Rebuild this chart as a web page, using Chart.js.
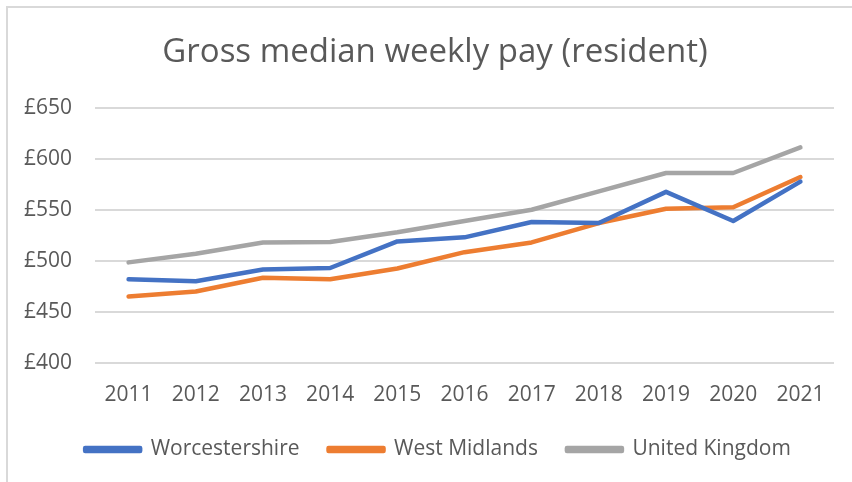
<!DOCTYPE html>
<html>
<head>
<meta charset="utf-8">
<script src="https://cdn.jsdelivr.net/npm/chart.js@4"></script>
<style>
  body { margin: 0; background: #fff; overflow: hidden; }
  #wrap { position: relative; width: 852px; height: 482px; overflow: hidden; }
</style>
</head>
<body>
<div id="wrap"><canvas id="chart" width="852" height="482"></canvas></div>
<script>
const jahre = ['2011', '2012', '2013', '2014', '2015', '2016', '2017', '2018', '2019', '2020', '2021'];
const worcestershire = [482, 480, 491.5, 493, 519, 523, 538, 537, 567.5, 539, 577.5];
const westMidlands = [465, 470, 483.5, 482, 492.5, 508.5, 518, 537, 551, 552.5, 582];
const unitedKingdom = [498.5, 507, 518, 518.5, 528, 539, 550, 568, 586, 586, 611];
const yMin = 400, yMax = 650, yStep = 50;

const schrift = "'Open Sans', 'DejaVu Sans', sans-serif";
const textFarbe = '#595959';

// Rahmen wie im Original (nur oben und links sichtbar)
const rahmen = {
  id: 'rahmen',
  beforeDraw(chart) {
    const c = chart.ctx;
    c.save();
    c.fillStyle = '#fff';
    c.fillRect(0, 0, chart.width, chart.height);
    c.strokeStyle = '#d9d9d9';
    c.lineWidth = 2;
    c.strokeRect(7, 7, 900, 520);
    c.restore();
  }
};

// Titel und Legende wie im Original etwas nach rechts
const verschieben = {
  id: 'verschieben',
  afterLayout(chart) {
    if (chart.titleBlock) chart.titleBlock.left += 18;
    if (chart.legend) chart.legend.left += 24;
  }
};

function linie(label, data, farbe) {
  return {
    label,
    data,
    borderColor: farbe,
    backgroundColor: farbe,
    borderWidth: 4.5,
    borderCapStyle: 'round',
    borderJoinStyle: 'round',
    pointRadius: 0,
    tension: 0,
    fill: false
  };
}

new Chart(document.getElementById('chart'), {
  type: 'line',
  data: {
    labels: jahre,
    datasets: [
      linie('Worcestershire', worcestershire, '#4472c4'),
      linie('West Midlands', westMidlands, '#ed7d31'),
      linie('United Kingdom', unitedKingdom, '#a5a5a5')
    ]
  },
  plugins: [rahmen, verschieben],
  options: {
    responsive: false,
    animation: false,
    layout: { padding: { top: 18, left: 18, right: 18, bottom: 12 } },
    plugins: {
      title: {
        display: true,
        text: 'Gross median weekly pay (resident)',
        color: textFarbe,
        font: { family: schrift, size: 33, weight: 'normal' },
        padding: { top: 15, bottom: 35 }
      },
      legend: {
        position: 'bottom',
        labels: {
          color: textFarbe,
          font: { family: schrift, size: 21 },
          boxWidth: 55,
          boxHeight: 3,
          padding: 29
        }
      },
      tooltip: { enabled: false }
    },
    scales: {
      x: {
        offset: true,
        afterFit(scale) { scale.height = 47; },
        grid: { display: false },
        border: { display: false },
        ticks: {
          color: textFarbe,
          font: { family: schrift, size: 21 },
          padding: 11,
          maxRotation: 0
        }
      },
      y: {
        min: yMin,
        max: yMax,
        afterFit(scale) { scale.width = 77; },
        grid: { color: '#d9d9d9', lineWidth: 2, drawTicks: false },
        border: { display: false },
        ticks: {
          stepSize: yStep,
          color: textFarbe,
          font: { family: schrift, size: 21 },
          padding: 23,
          callback: v => '£' + v
        }
      }
    }
  }
});
</script>
</body>
</html>
